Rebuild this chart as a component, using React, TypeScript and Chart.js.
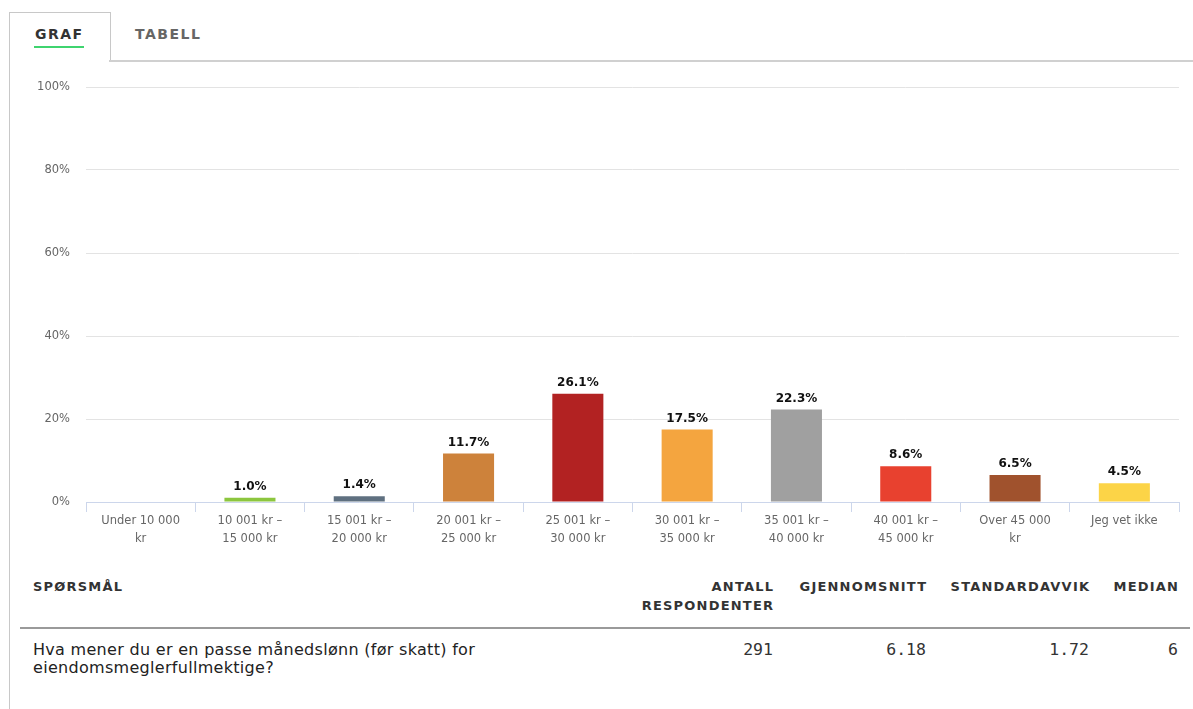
import React, { useEffect, useRef } from "react";
import { Chart, registerables } from "chart.js";

Chart.register(...registerables);

const categories: string[][] = [
  ["Under 10 000", "kr"],
  ["10 001 kr –", "15 000 kr"],
  ["15 001 kr –", "20 000 kr"],
  ["20 001 kr –", "25 000 kr"],
  ["25 001 kr –", "30 000 kr"],
  ["30 001 kr –", "35 000 kr"],
  ["35 001 kr –", "40 000 kr"],
  ["40 001 kr –", "45 000 kr"],
  ["Over 45 000", "kr"],
  ["Jeg vet ikke"],
];
const values: number[] = [0, 1.0, 1.4, 11.7, 26.1, 17.5, 22.3, 8.6, 6.5, 4.5];
const barColors: string[] = [
  "#7cb5ec",
  "#8cc63e",
  "#5f7080",
  "#cd823b",
  "#b22222",
  "#f4a53f",
  "#a0a0a0",
  "#e8412f",
  "#a0522d",
  "#fcd447",
];
const yTickValues: number[] = [0, 20, 40, 60, 80, 100];

const tabs: string[] = ["GRAF", "TABELL"];
const questionLines: string[] = [
  "Hva mener du er en passe månedslønn (før skatt) for",
  "eiendomsmeglerfullmektige?",
];
const statHeaders: string[][] = [
  ["ANTALL", "RESPONDENTER"],
  ["GJENNOMSNITT"],
  ["STANDARDAVVIK"],
  ["MEDIAN"],
];
const statValues: string[] = ["291", "6.18", "1.72", "6"];
const statRightEdges: number[] = [773, 926, 1089, 1178];

const valueLabelPlugin = {
  id: "valueLabels",
  afterDatasetsDraw(chart: any) {
    const ctx = chart.ctx;
    const meta = chart.getDatasetMeta(0);
    ctx.save();
    ctx.font = "bold 12px 'DejaVu Sans'";
    ctx.fillStyle = "#111";
    ctx.textAlign = "center";
    ctx.textBaseline = "bottom";
    meta.data.forEach((bar: any, i: number) => {
      const v = values[i];
      if (!v) return;
      ctx.fillText(v.toFixed(1) + "%", bar.x, bar.y - 5);
    });
    ctx.restore();
  },
};

function BarChart() {
  const ref = useRef<HTMLCanvasElement | null>(null);
  useEffect(() => {
    if (!ref.current) return;
    const chart = new Chart(ref.current, {
      type: "bar",
      data: {
        labels: categories,
        datasets: [
          {
            data: values,
            backgroundColor: barColors,
            borderWidth: 0,
            barPercentage: 1,
            categoryPercentage: 0.467,
          },
        ],
      },
      options: {
        animation: false,
        responsive: false,
        maintainAspectRatio: false,
        layout: { padding: { top: 26, right: 14, bottom: 0, left: 0 } },
        plugins: {
          legend: { display: false },
          tooltip: { enabled: false },
        },
        scales: {
          x: {
            offset: true,
            grid: {
              offset: true,
              drawOnChartArea: false,
              drawTicks: true,
              tickLength: 10,
              color: "#ccd6eb",
            },
            border: { display: true, color: "#ccd6eb" },
            ticks: {
              color: "#666",
              padding: 1,
              maxRotation: 0,
              autoSkip: false,
              font: { family: "'DejaVu Sans'", size: 11.5, lineHeight: 1.48 },
            },
            afterFit(scale: any) {
              scale.height = 59;
            },
          },
          y: {
            min: 0,
            max: 100,
            afterBuildTicks(scale: any) {
              scale.ticks = yTickValues.map((v) => ({ value: v }));
            },
            grid: { color: "#e3e3e3", drawTicks: false },
            border: { display: false },
            ticks: {
              color: "#666",
              padding: 16,
              font: { family: "'DejaVu Sans'", size: 11.5 },
              callback: (v: any) => v + "%",
            },
            afterFit(scale: any) {
              scale.width = 86;
            },
          },
        },
      },
      plugins: [valueLabelPlugin],
    });
    return () => chart.destroy();
  }, []);
  return (
    <canvas
      ref={ref}
      width={1193}
      height={500}
      style={{ display: "block", width: 1193, height: 500 }}
    />
  );
}

export default function App() {
  const uiFont = "'DejaVu Sans', sans-serif";
  return (
    <div
      style={{
        position: "absolute",
        left: 0,
        top: 0,
        width: 1193,
        height: 709,
        background: "#fff",
        overflow: "hidden",
        fontFamily: uiFont,
      }}
    >
      {/* tab frame */}
      <div style={{ position: "absolute", left: 9, top: 12, width: 100, height: 48, borderLeft: "1px solid #c8c8c8", borderTop: "1px solid #c8c8c8", borderRight: "1px solid #c8c8c8" }} />
      <div style={{ position: "absolute", left: 109, top: 60, width: 1084, height: 0, borderTop: "2px solid #d0d0d0" }} />
      <div style={{ position: "absolute", left: 9, top: 60, width: 0, height: 649, borderLeft: "1px solid #c8c8c8" }} />
      <div style={{ position: "absolute", left: 35, top: 26, fontWeight: 700, fontSize: 14, letterSpacing: 1.5, color: "#333", lineHeight: "17px" }}>{tabs[0]}</div>
      <div style={{ position: "absolute", left: 34, top: 46, width: 50, height: 2, background: "#3fd46f" }} />
      <div style={{ position: "absolute", left: 135, top: 26, fontWeight: 700, fontSize: 14, letterSpacing: 1.5, color: "#666", lineHeight: "17px" }}>{tabs[1]}</div>

      {/* chart */}
      <div style={{ position: "absolute", left: 0, top: 61, width: 1193, height: 500 }}>
        <BarChart />
      </div>

      {/* stats table */}
      <div style={{ position: "absolute", left: 33, top: 577, fontWeight: 700, fontSize: 13, letterSpacing: 1.2, color: "#333", lineHeight: "19px" }}>SPØRSMÅL</div>
      {statHeaders.map((lines, i) => (
        <div
          key={i}
          style={{
            position: "absolute",
            right: 1193 - statRightEdges[i] - 1.2,
            top: 577,
            textAlign: "right",
            fontWeight: 700,
            fontSize: 13,
            letterSpacing: 1.2,
            color: "#333",
            lineHeight: "19px",
            whiteSpace: "nowrap",
          }}
        >
          {lines.map((l, j) => (
            <div key={j}>{l}</div>
          ))}
        </div>
      ))}
      <div style={{ position: "absolute", left: 20, top: 627, width: 1170, height: 0, borderTop: "2px solid #9a9a9a" }} />
      <div style={{ position: "absolute", left: 33, top: 641, fontSize: 16, letterSpacing: 0.3, color: "#222", lineHeight: "18px", whiteSpace: "nowrap" }}>
        {questionLines.map((l, j) => (
          <div key={j}>{l}</div>
        ))}
      </div>
      {statValues.map((v, i) => (
        <div
          key={i}
          style={{
            position: "absolute",
            right: 1193 - statRightEdges[i],
            top: 640,
            textAlign: "right",
            fontFamily: "'DejaVu Sans Mono', monospace",
            fontSize: 16.5,
            color: "#333",
            lineHeight: "19px",
          }}
        >
          {v}
        </div>
      ))}
    </div>
  );
}
